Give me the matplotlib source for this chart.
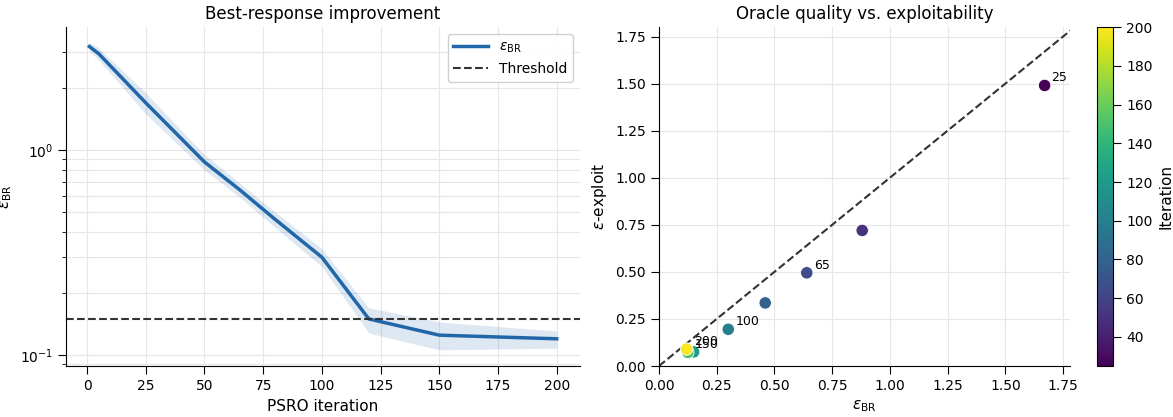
import numpy as np
import matplotlib
matplotlib.use('Agg')
from matplotlib import pyplot as plt

# %% Data.
# Left panel: best-response epsilon over PSRO iterations (mean and band).
iters = [1, 5, 25, 50, 65, 80, 100, 120, 150, 200]
eps_br = [3.2, 2.95, 1.70, 0.875, 0.64, 0.46, 0.30, 0.15, 0.125, 0.12]
eps_lo = [3.05, 2.75, 1.50, 0.80, 0.59, 0.42, 0.27, 0.128, 0.106, 0.108]
eps_hi = [3.35, 3.15, 1.90, 0.95, 0.69, 0.50, 0.33, 0.17, 0.145, 0.131]
threshold = 0.15

# Right panel: oracle quality vs exploitability.
sc_iter = [25, 50, 65, 80, 100, 120, 150, 200]
sc_br = [1.67, 0.88, 0.64, 0.46, 0.30, 0.15, 0.125, 0.12]
sc_expl = [1.49, 0.72, 0.495, 0.335, 0.195, 0.075, 0.072, 0.09]
lab_iter = [25, 65, 100, 150, 200]

# %% Figure.
fig = plt.figure(figsize=(11.73, 4.17), dpi=100)
ax1 = fig.add_axes([0.0563, 0.1223, 0.4382, 0.8127])
ax2 = fig.add_axes([0.5618, 0.1223, 0.3504, 0.8127])
cax = fig.add_axes([0.9352, 0.1223, 0.0136, 0.8127])

# Left: epsilon_BR on log scale.
line_col = '#2166a8'
ax1.fill_between(iters, eps_lo, eps_hi, color=line_col, alpha=0.15, linewidth=0)
ax1.plot(iters, eps_br, color=line_col, lw=2.5, label=r'$\epsilon_{\mathrm{BR}}$')
ax1.axhline(threshold, color='#333333', ls='--', lw=1.5, label='Threshold')
ax1.set_yscale('log')
ax1.set_ylim(0.0884, 3.98)
ax1.set_xlim(-8.95, 209.95)
ax1.set_xticks([0, 25, 50, 75, 100, 125, 150, 175, 200])
ax1.grid(True, which='both', color='#e6e6e6', lw=0.8)
ax1.set_axisbelow(True)
ax1.set_title('Best-response improvement', fontsize=12)
ax1.set_xlabel('PSRO iteration', fontsize=11)
ax1.set_ylabel(r'$\epsilon_{\mathrm{BR}}$', fontsize=11)
ax1.legend(loc='upper right', fontsize=10, framealpha=0.9, handlelength=2.5)

# Right: scatter coloured by iteration.
sc = ax2.scatter(sc_br, sc_expl, c=sc_iter, cmap='viridis', vmin=25, vmax=200,
                 s=80, edgecolors='white', linewidths=0.6, zorder=3)
ax2.plot([0, 1.8], [0, 1.8], color='#333333', ls='--', lw=1.5, zorder=2)
for it, xx, yy in zip(sc_iter, sc_br, sc_expl):
    if it in lab_iter:
        ax2.annotate(str(it), (xx, yy), xytext=(5, 3), textcoords='offset points',
                     fontsize=9)
ax2.set_xlim(0, 1.78)
ax2.set_ylim(0, 1.80)
ax2.set_xticks(np.arange(0, 1.76, 0.25))
ax2.set_yticks(np.arange(0, 1.76, 0.25))
ax2.grid(True, color='#e6e6e6', lw=0.8)
ax2.set_axisbelow(True)
ax2.set_title('Oracle quality vs. exploitability', fontsize=12)
ax2.set_xlabel(r'$\epsilon_{\mathrm{BR}}$', fontsize=11)
ax2.set_ylabel(r'$\epsilon$-exploit', fontsize=11)

cb = fig.colorbar(sc, cax=cax)
cb.set_label('Iteration', fontsize=11)

# Despine and seaborn-like ticks.
for ax in (ax1, ax2):
    ax.spines['top'].set_visible(False)
    ax.spines['right'].set_visible(False)
    ax.tick_params(labelsize=10, which='major', length=6)
    ax.tick_params(which='minor', length=3)
cb.ax.tick_params(labelsize=10, length=6)

fig.savefig('out.png', dpi=100)
